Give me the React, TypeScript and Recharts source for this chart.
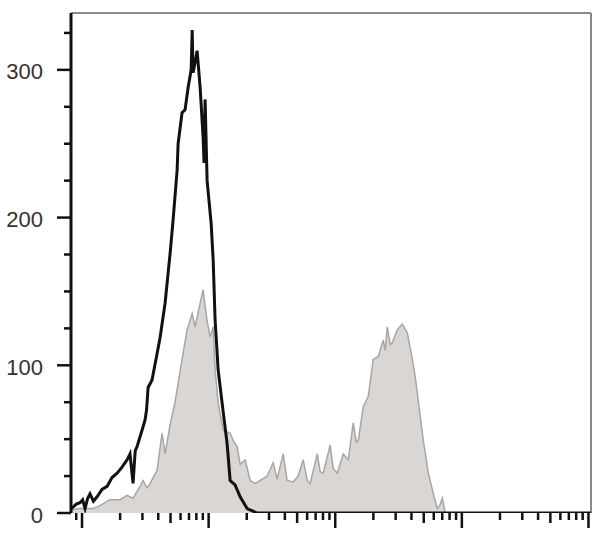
import { ComposedChart, Line, Area, XAxis, YAxis, ReferenceLine } from "recharts";

// x values are log10 of fluorescence intensity, y values are event counts
const stainedLog = [0.913, 0.93, 0.955, 0.984, 1.005, 1.024, 1.045, 1.063, 1.09, 1.119, 1.158, 1.198, 1.237, 1.277, 1.316, 1.356, 1.379, 1.403, 1.42, 1.435, 1.474, 1.498, 1.51, 1.522, 1.553, 1.593, 1.617, 1.656, 1.696, 1.719, 1.751, 1.759, 1.79, 1.814, 1.838, 1.862, 1.87, 1.877, 1.893, 1.909, 1.933, 1.956, 1.964, 1.972, 1.988, 2.02, 2.036, 2.051, 2.075, 2.107, 2.146, 2.17, 2.209, 2.249, 2.304, 2.383, 5.02];
const stainedCount = [3, 4, 6, 7, 9, 3, 10, 13, 8, 11, 16, 18, 24, 27, 31, 36, 40, 20, 42, 45, 56, 63, 70, 85, 90, 108, 119, 142, 176, 198, 232, 250, 271, 273, 288, 300, 327, 298, 305, 313, 288, 255, 237, 280, 225, 196, 171, 131, 97, 74, 47, 22, 19, 11, 3, 0, 0];

const controlLog = [0.913, 0.984, 1.087, 1.142, 1.221, 1.3, 1.356, 1.403, 1.458, 1.482, 1.514, 1.538, 1.593, 1.632, 1.656, 1.696, 1.735, 1.759, 1.798, 1.83, 1.87, 1.893, 1.925, 1.956, 1.988, 2.012, 2.036, 2.051, 2.075, 2.115, 2.17, 2.194, 2.225, 2.249, 2.289, 2.328, 2.367, 2.407, 2.462, 2.51, 2.541, 2.589, 2.62, 2.668, 2.707, 2.747, 2.779, 2.802, 2.858, 2.881, 2.905, 2.96, 2.984, 3.016, 3.063, 3.103, 3.142, 3.166, 3.182, 3.221, 3.261, 3.3, 3.34, 3.379, 3.395, 3.411, 3.435, 3.45, 3.49, 3.53, 3.569, 3.609, 3.632, 3.672, 3.696, 3.735, 3.775, 3.806, 3.83, 3.846, 3.869];
const controlCount = [2, 3, 3, 5, 9, 9, 12, 10, 18, 22, 17, 20, 29, 54, 40, 60, 75, 88, 108, 124, 135, 126, 139, 151, 130, 119, 126, 97, 75, 56, 54, 49, 45, 33, 36, 22, 20, 22, 25, 34, 23, 40, 22, 21, 25, 36, 22, 20, 40, 28, 27, 46, 30, 27, 40, 36, 61, 48, 49, 72, 79, 104, 106, 117, 110, 126, 114, 115, 124, 128, 122, 104, 92, 65, 49, 27, 13, 3, 6, 10, 0];

const yTicks = [0, 25, 50, 75, 100, 125, 150, 175, 200, 225, 250, 275, 300, 325];
const yLabels = [0, 100, 200, 300];
const decades = [0, 1, 2, 3, 4];
const X_MIN = 0.913;
const X_MAX = 5.02;
const Y_MAX = 338.5;

const stained = stainedLog.map((x, i) => ({ x, y: stainedCount[i] }));
const control = controlLog.map((x, i) => ({ x, y: controlCount[i] }));

const xTicks: number[] = [];
decades.forEach((d) => {
  for (let k = 1; k <= 9; k++) {
    const v = d + Math.log10(k);
    if (v >= X_MIN && v <= X_MAX) xTicks.push(v);
  }
});
xTicks.push(5);

const XTick = (props: any) => {
  const { x, y, payload } = props;
  const frac = payload.value - Math.floor(payload.value + 1e-6);
  const mult = Math.round(Math.pow(10, frac));
  const len = mult === 1 ? 15 : mult === 5 ? 10 : 7;
  return <line x1={x} x2={x} y1={y} y2={y + len} stroke="#111" strokeWidth={2.5} />;
};

const YTick = (props: any) => {
  const { x, y, payload } = props;
  const major = yLabels.includes(payload.value);
  return (
    <g>
      <line x1={x} x2={x - (major ? 14 : 7)} y1={y} y2={y} stroke="#111" strokeWidth={2.5} />
      {major && (
        <text x={x - 28} y={y + 2} textAnchor="end" dominantBaseline="central" fontSize={22} fontFamily="Liberation Sans, Arial, sans-serif" fill="#333">
          {payload.value}
        </text>
      )}
    </g>
  );
};

export default function App() {
  return (
    <div style={{ position: "absolute", left: 0, top: 0, width: 608, height: 545, background: "#fff" }}>
      <ComposedChart width={608} height={545} margin={{ top: 13, right: 17, bottom: 0, left: 0 }}>
        <XAxis dataKey="x" type="number" domain={[X_MIN, X_MAX]} ticks={xTicks} allowDataOverflow
          axisLine={false} tickLine={false} tickSize={0} tickMargin={0} height={32} tick={XTick} interval={0} />
        <YAxis type="number" domain={[0, Y_MAX]} ticks={yTicks} allowDataOverflow width={71}
          axisLine={{ stroke: "#111", strokeWidth: 3 }} tickLine={false} tickSize={0} tickMargin={0} tick={YTick} interval={0} />
        <ReferenceLine y={Y_MAX} stroke="#8a8a8a" strokeWidth={2} />
        <ReferenceLine x={X_MAX} stroke="#8a8a8a" strokeWidth={2} />
        <Area data={control} dataKey="y" type="linear" fill="#d9d6d3" fillOpacity={1} stroke="#a6a6a6" strokeWidth={1.5} isAnimationActive={false} />
        <Line data={stained} dataKey="y" type="linear" stroke="#111" strokeWidth={3} dot={false} isAnimationActive={false} />
      </ComposedChart>
    </div>
  );
}
